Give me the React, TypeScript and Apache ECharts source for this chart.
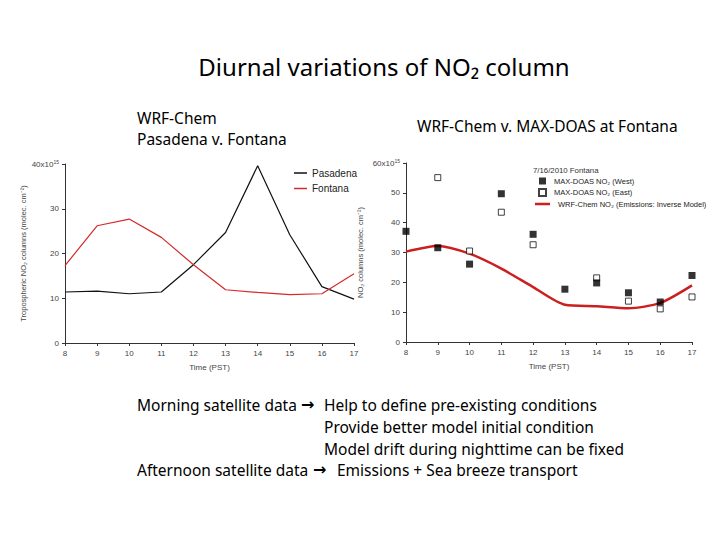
import React, { useEffect, useRef } from "react";
import * as echarts from "echarts";

// ---- data ----
const hours = [8, 9, 10, 11, 12, 13, 14, 15, 16, 17];
const pasadena = [11.4, 11.6, 11.0, 11.4, 17.5, 24.7, 39.6, 24.2, 12.6, 9.8];
const fontana = [17.3, 26.2, 27.7, 23.6, 17.5, 11.9, 11.3, 10.8, 11.0, 15.5];
const maxdoasWest = [37.1, 31.6, 26.1, 49.7, 36.1, 17.7, 19.8, 16.5, 13.4, 22.3];
const maxdoasEast: (number | null)[] = [null, 55.1, 30.5, 43.5, 32.6, null, 21.5, 13.7, 11.1, 15.1];
const wrfFontana = [30.3, 32.2, 29.6, 24.6, 18.4, 12.5, 12.0, 11.3, 13.1, 19.0];
const leftTicksMax = 40;
const rightTicksMax = 60;

const pairs = (ys: (number | null)[]) =>
  hours.map((h, i) => [h, ys[i]]).filter((p) => p[1] !== null);

const chartFont = "'Liberation Sans Narrow', 'Liberation Sans', sans-serif";
const slideFont = "'Noto Sans', 'Open Sans', sans-serif";

export default function App() {
  const ref = useRef<HTMLDivElement>(null);
  useEffect(() => {
    if (!ref.current) return;
    const chart = echarts.init(ref.current, undefined, { renderer: "svg" });
    const axisLine = { lineStyle: { color: "#333", width: 1 } };
    const axisTick = { length: 3, lineStyle: { color: "#333" } };
    const labelStyle = { color: "#444", fontSize: 8, fontFamily: chartFont };
    const supRich = { sup: { fontSize: 5, color: "#444", fontFamily: chartFont, padding: [0, 0, 5, 0] } };

    const textEl = (x: number, y: number, text: string, fontSize: number, align = "left") => ({
      type: "text",
      x,
      y,
      style: { text, fontSize, fontFamily: slideFont, fill: "#000", align, verticalAlign: "middle" },
    });
    const arrowEl = (x: number, y: number) => ({
      type: "text",
      x,
      y,
      style: {
        text: "→",
        fontSize: 16,
        fontWeight: "bold",
        fontFamily: "'DejaVu Sans', sans-serif",
        fill: "#000",
        align: "left",
        verticalAlign: "middle",
      },
    });

    chart.setOption({
      animation: false,
      backgroundColor: "#fff",
      textStyle: { fontFamily: chartFont },
      grid: [
        { left: 65, right: 366, top: 164, bottom: 197 },
        { left: 406, right: 28, top: 163, bottom: 198 },
      ],
      xAxis: [0, 1].map((gi) => ({
        type: "value",
        gridIndex: gi,
        min: 8,
        max: 17,
        interval: 1,
        splitLine: { show: false },
        axisLine,
        axisTick,
        axisLabel: { ...labelStyle, margin: 6 },
        name: "Time (PST)",
        nameLocation: "middle",
        nameGap: 20,
        nameTextStyle: { color: "#444", fontSize: 8, fontFamily: chartFont },
      })),
      yAxis: [
        {
          type: "value",
          gridIndex: 0,
          min: 0,
          max: leftTicksMax,
          interval: 10,
          splitLine: { show: false },
          axisLine: { show: true, ...axisLine },
          axisTick: { show: true, ...axisTick },
          axisLabel: {
            ...labelStyle,
            margin: 6,
            formatter: (v: number) => (v === leftTicksMax ? `${v}x10{sup|15}` : String(v)),
            rich: supRich,
          },
          name: "Tropospheric NO₂ columns (molec. cm⁻²)",
          nameLocation: "middle",
          nameGap: 38,
          nameTextStyle: { color: "#444", fontSize: 7.5, fontFamily: chartFont },
        },
        {
          type: "value",
          gridIndex: 1,
          min: 0,
          max: rightTicksMax,
          interval: 10,
          splitLine: { show: false },
          axisLine: { show: true, ...axisLine },
          axisTick: { show: true, ...axisTick },
          axisLabel: {
            ...labelStyle,
            margin: 6,
            formatter: (v: number) => (v === rightTicksMax ? `${v}x10{sup|15}` : String(v)),
            rich: supRich,
          },
          name: "NO₂ columns (molec. cm⁻²)",
          nameLocation: "middle",
          nameGap: 42,
          nameTextStyle: { color: "#444", fontSize: 7.5, fontFamily: chartFont },
        },
      ],
      legend: [
        {
          data: [
            { name: "Pasadena", icon: "rect" },
            { name: "Fontana", icon: "rect" },
          ],
          orient: "vertical",
          left: 289,
          top: 163,
          itemWidth: 13,
          itemHeight: 1.5,
          itemGap: 5.5,
          textStyle: { fontSize: 10, color: "#222", fontFamily: chartFont },
        },
        {
          data: [
            { name: "MAX-DOAS NO₂ (West)", icon: "rect" },
            { name: "MAX-DOAS NO₂ (East)", icon: "rect" },
          ],
          orient: "vertical",
          left: 533,
          top: 172,
          itemWidth: 7,
          itemHeight: 7,
          itemGap: 3,
          textStyle: { fontSize: 7.5, color: "#222", fontFamily: chartFont, padding: [0, 0, 0, 3] },
        },
        {
          data: [{ name: "WRF-Chem NO₂ (Emissions: Inverse Model)", icon: "rect" }],
          orient: "vertical",
          left: 530,
          top: 195,
          itemWidth: 15,
          itemHeight: 2.5,
          textStyle: { fontSize: 7.5, color: "#222", fontFamily: chartFont, padding: [0, 0, 0, 3] },
        },
      ],
      series: [
        {
          name: "Pasadena",
          type: "line",
          xAxisIndex: 0,
          yAxisIndex: 0,
          data: pairs(pasadena),
          symbol: "none",
          lineStyle: { color: "#111", width: 1.2 },
          itemStyle: { color: "#111" },
        },
        {
          name: "Fontana",
          type: "line",
          xAxisIndex: 0,
          yAxisIndex: 0,
          data: pairs(fontana),
          symbol: "none",
          lineStyle: { color: "#d42a2a", width: 1.2 },
          itemStyle: { color: "#d42a2a" },
        },
        {
          name: "WRF-Chem NO₂ (Emissions: Inverse Model)",
          type: "line",
          xAxisIndex: 1,
          yAxisIndex: 1,
          data: pairs(wrfFontana),
          symbol: "none",
          smooth: 0.25,
          lineStyle: { color: "#cc1f1f", width: 2.5 },
          itemStyle: { color: "#cc1f1f" },
          z: 1,
        },
        {
          name: "MAX-DOAS NO₂ (East)",
          type: "scatter",
          xAxisIndex: 1,
          yAxisIndex: 1,
          data: pairs(maxdoasEast),
          symbol: "rect",
          symbolSize: 6,
          itemStyle: { color: "#fff", borderColor: "#111", borderWidth: 1 },
          z: 2,
        },
        {
          name: "MAX-DOAS NO₂ (West)",
          type: "scatter",
          xAxisIndex: 1,
          yAxisIndex: 1,
          data: pairs(maxdoasWest),
          symbol: "rect",
          symbolSize: 7,
          itemStyle: { color: "#000" },
          z: 3,
        },
      ],
      graphic: [
        textEl(384, 66, "Diurnal variations of NO₂ column", 24, "center"),
        textEl(137, 118, "WRF-Chem", 15.5),
        textEl(137, 139, "Pasadena v. Fontana", 15.5),
        textEl(417, 126, "WRF-Chem v. MAX-DOAS at Fontana", 15.5),
        {
          type: "text",
          x: 533,
          y: 170,
          style: { text: "7/16/2010 Fontana", fontSize: 7.8, fontFamily: chartFont, fill: "#333", verticalAlign: "middle" },
        },
        textEl(137, 405, "Morning satellite data", 15.5),
        arrowEl(301, 404),
        textEl(324, 405, "Help to define pre-existing conditions", 15.5),
        textEl(324, 427, "Provide better model initial condition", 15.5),
        textEl(324, 449, "Model drift during nighttime can be fixed", 15.5),
        textEl(137, 470, "Afternoon satellite data", 15.5),
        arrowEl(313, 469),
        textEl(337, 470, "Emissions + Sea breeze transport", 15.5),
      ],
    });
    return () => chart.dispose();
  }, []);
  return (
    <div
      ref={ref}
      style={{ position: "fixed", left: 0, top: 0, width: 720, height: 540, background: "#fff" }}
    />
  );
}
